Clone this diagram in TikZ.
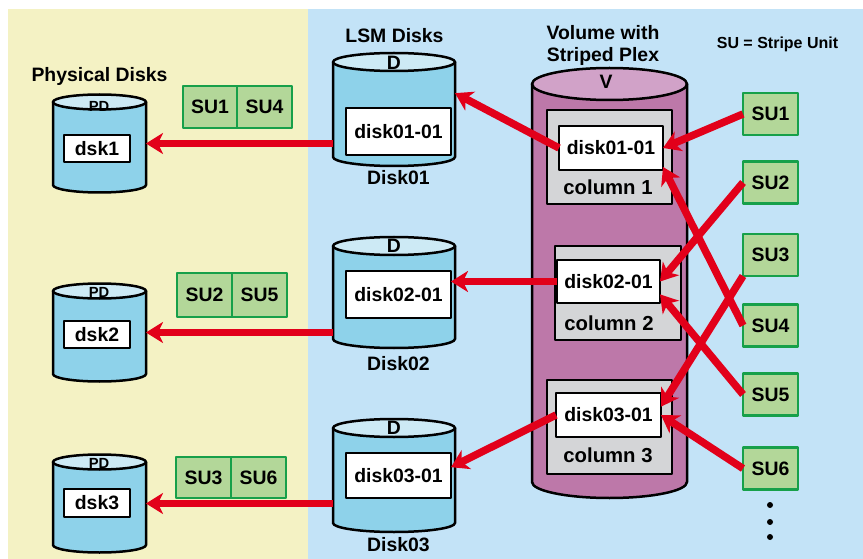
\documentclass[tikz,border=0pt]{standalone}
\usepackage{fontspec}
\setmainfont{Liberation Sans}
\usetikzlibrary{arrows.meta,positioning}

\definecolor{paleyellow}{HTML}{F4F2C4}
\definecolor{paleblue}{HTML}{C3E3F7}
\definecolor{cylblue}{HTML}{8ED2EA}
\definecolor{cyltop}{HTML}{CDEAF5}
\definecolor{volpurple}{HTML}{BD78A9}
\definecolor{voltop}{HTML}{D1A2C8}
\definecolor{colgray}{HTML}{D4D5D7}
\definecolor{sufill}{HTML}{B3D799}
\definecolor{sugreen}{HTML}{17A04A}
\definecolor{redarrow}{HTML}{E2001A}

\newcommand{\drum}[8]{%
  \node[minimum width=2*#5, minimum height=#4-#3, inner sep=0pt, outer sep=0pt] at (#2,{(#3+#4)/2}) (#1) {};
  \filldraw[line width=2.5, fill=#7] (#1.north west) -- (#1.south west)
    arc[start angle=180, end angle=0, x radius=#5, y radius=#6] -- (#1.north east) -- cycle;
  \filldraw[line width=2.5, fill=#8] (#1.north) ellipse[x radius=#5, y radius=#6];
}

\begin{document}
\begin{tikzpicture}[x=1pt, y=-1pt, line join=round,
    every node/.style={font=\bfseries\fontsize{19.4}{21}\selectfont},
    box/.style={draw, line width=2.5, fill=white, inner sep=0pt, outer sep=0pt},
    colbox/.style={draw, line width=2.5, fill=colgray, inner sep=0pt, outer sep=0pt, minimum width=125, minimum height=94},
    colname/.style={anchor=base, font=\bfseries\fontsize{20.3}{22}\selectfont},
    sucell/.style={draw=sugreen, line width=2.5, fill=sufill, inner sep=0pt, outer sep=0pt, minimum width=55, minimum height=42},
    small/.style={font=\bfseries\fontsize{14.7}{16}\selectfont},
    dot/.style={circle, fill, inner sep=0pt, minimum size=6},
    arr/.style={color=redarrow, line width=7.5, -{Stealth[length=17pt, width=21pt, inset=5pt]}}]

    \useasboundingbox (0,0) rectangle (863,559);
    \fill[paleyellow] (8,9) rectangle (308,559);
    \fill[paleblue] (308,9) rectangle (863,559);

    \node[anchor=base] at (99.5,82) (pdtitle) {Physical Disks};
    \node[anchor=base] at (394.5,43) (lsmtitle) {LSM Disks};
    \node[anchor=base] at (603,39.5) (voltitle) {Volume with};
    \node[anchor=base] at (603,61.5) (plextitle) {Striped Plex};
    \node[anchor=base, font=\bfseries\fontsize{16}{18}\selectfont] at (777.5,49) (sulegend) {SU = Stripe Unit};

    \drum{pd1}{99.5}{102}{185}{46.5}{7.5}{cylblue}{cyltop}
    \drum{pd2}{99.5}{291}{374}{46.5}{7.5}{cylblue}{cyltop}
    \drum{pd3}{99.5}{462}{545}{46.5}{7.5}{cylblue}{cyltop}
    \drum{lsm1}{394}{62}{157}{61}{9}{cylblue}{cyltop}
    \drum{lsm2}{394}{246}{339}{61}{9}{cylblue}{cyltop}
    \drum{lsm3}{394}{428}{523}{61}{9}{cylblue}{cyltop}
    \drum{vol}{609.5}{84}{482}{77.5}{16}{volpurple}{voltop}

    \node[small, anchor=base] at (99,111.5) (pdl1) {PD};
    \node[small, anchor=base] at (99,297) (pdl2) {PD};
    \node[small, anchor=base] at (99,468) (pdl3) {PD};
    \node[anchor=base] at (394,70) (dl1) {D};
    \node[anchor=base] at (394,253) (dl2) {D};
    \node[anchor=base] at (394,434.5) (dl3) {D};
    \node[anchor=base] at (606,89) (vl) {V};

    \node[box, minimum width=66, minimum height=27] at (97,148.5) (dsk1) {dsk1};
    \node[box, minimum width=66, minimum height=27] at (97,334.5) (dsk2) {dsk2};
    \node[box, minimum width=66, minimum height=28] at (97,503) (dsk3) {dsk3};

    \node[box, minimum width=105, minimum height=47] at (398.5,131.5) (d1) {disk01-01};
    \node[box, minimum width=105, minimum height=47] at (398.5,294.5) (d2) {disk02-01};
    \node[box, minimum width=105, minimum height=45] at (398.5,475.5) (d3) {disk03-01};
    \node[anchor=base] at (398.5,185) (lsmname1) {Disk01};
    \node[anchor=base] at (398.5,370) (lsmname2) {Disk02};
    \node[anchor=base] at (398.5,551.5) (lsmname3) {Disk03};

    \node[colbox] at (609.5,157) (col1) {};
    \node[colbox, minimum width=126] at (618,293) (col2) {};
    \node[colbox] at (609.5,427) (col3) {};
    \node[box, minimum width=104, minimum height=44] at (611,148) (v1) {disk01-01};
    \node[box, minimum width=103, minimum height=43] at (608.5,281.5) (v2) {disk02-01};
    \node[box, minimum width=105, minimum height=44] at (608.5,415) (v3) {disk03-01};
    \node[colname] at (608,194.3) (colname1) {column 1};
    \node[colname] at (609,330) (colname2) {column 2};
    \node[colname] at (608,462.7) (colname3) {column 3};

    \node[sucell, minimum width=54] at (210,107) (pa1) {SU1};
    \node[sucell, right=0pt of pa1] (pb1) {SU4};
    \node[sucell, minimum height=44] at (204.5,295) (pa2) {SU2};
    \node[sucell, minimum height=44, right=0pt of pa2] (pb2) {SU5};
    \node[sucell, minimum height=41] at (203.5,477.5) (pa3) {SU3};
    \node[sucell, minimum height=41, right=0pt of pa3] (pb3) {SU6};

    \node[sucell] at (770.5,114) (su1) {SU1};
    \node[sucell] at (770.5,182.5) (su2) {SU2};
    \node[sucell] at (770.5,255) (su3) {SU3};
    \node[sucell] at (770.5,325.5) (su4) {SU4};
    \node[sucell] at (770.5,394.5) (su5) {SU5};
    \node[sucell] at (770.5,468.5) (su6) {SU6};
    \node[dot] at (770,505) (dot1) {};
    \node[dot] at (770,522) (dot2) {};
    \node[dot] at (770,537) (dot3) {};

    \path[arr] (su1.west) edge (v1.east);
    \path[arr] (su2.west) edge (v2.east);
    \path[arr] (su3.south west) edge (v3.9);
    \path[arr] (su4.west) edge (v1.-20);
    \path[arr] (su5.west) edge (v2.-14);
    \path[arr] (su6.west) edge (v3.east);

    \path[arr] (v1.west) edge (lsm1.15);
    \path[arr] (v2.west) edge (v2.west -| d2.east);
    \path[arr] (v3.west) edge (d3.9);

    \path[arr] (pd1.east -| lsm1.west) edge (pd1.east);
    \path[arr] (pd2.east -| lsm2.west) edge (pd2.east);
    \path[arr] (pd3.east -| lsm3.west) edge (pd3.east);

\end{tikzpicture}
\end{document}
